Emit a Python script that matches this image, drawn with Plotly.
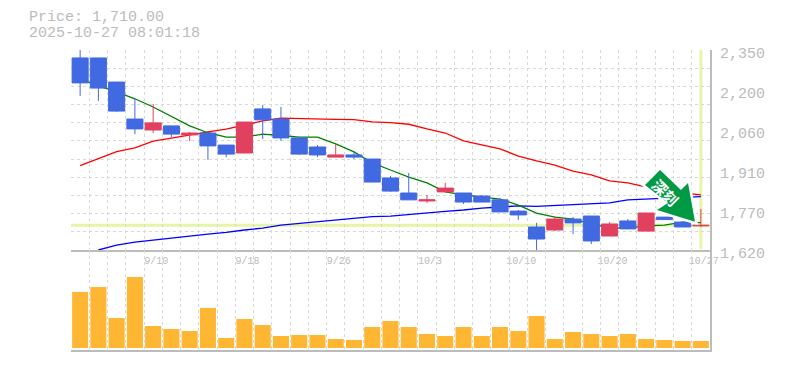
import plotly.graph_objects as go

dates = ["9/4","9/5","9/8","9/9","9/10","9/11","9/12","9/16","9/17","9/18","9/19","9/22","9/24","9/25","9/26",
         "9/29","9/30","10/1","10/2","10/3","10/6","10/7","10/8","10/9","10/10","10/14","10/15","10/16","10/17","10/20",
         "10/21","10/22","10/23","10/24","10/27"]
labelled = ["9/10","9/18","9/26","10/3","10/10","10/20","10/27"]

opens  = [2321,2321,2233,2098,2058,2073,2040,2047,2003,1974,2135,2098,2029,1996,1959,1967,1952,1883,1828,1799,1832,1828,1817,1803,1762,1704,1693,1733,1744,1671,1726,1689,1740,1722,1708]
highs  = [2350,2321,2233,2175,2153,2073,2051,2047,2003,2087,2149,2142,2029,2003,2007,1981,1952,1890,1901,1821,1865,1828,1821,1810,1766,1719,1744,1740,1744,1722,1733,1755,1740,1722,1770]
lows   = [2182,2164,2124,2043,2047,2032,2018,1949,1959,1974,2025,2018,1967,1959,1959,1952,1868,1832,1803,1792,1832,1788,1795,1759,1730,1620,1689,1678,1642,1671,1697,1689,1731,1704,1704]
closes = [2230,2211,2127,2062,2084,2043,2047,2000,1970,2087,2095,2029,1970,1967,1967,1959,1868,1835,1803,1803,1846,1795,1795,1759,1748,1660,1733,1719,1653,1715,1697,1755,1731,1704,1710]

ma_short = [2244,2219,2197,2172,2142,2109,2073,2048,2032,2032,2043,2038,2032,2032,2007,1978,1938,1912,1886,1865,1832,1821,1813,1806,1784,1755,1740,1733,1715,1700,1700,1708,1711,1722,1720]
ma_mid   = [1928,1954,1979,1993,2017,2028,2040,2051,2061,2076,2091,2101,2099,2097,2097,2096,2088,2085,2079,2062,2047,2018,2003,1989,1963,1945,1930,1908,1894,1872,1865,1850,1835,1828,1821]
ma_long  = [None,1620,1638,1649,1657,1664,1671,1678,1684,1693,1700,1711,1717,1724,1730,1737,1742,1744,1750,1757,1761,1766,1773,1777,1781,1779,1782,1784,1788,1792,1803,1806,1808,1812,1815]

volumes = [56,61,30,71,22,19,17,40,10,29,23,12,13,13,9,8,21,27,21,14,12,21,12,21,17,32,9,16,14,12,14,9,8,7,7]

price_ticks = [1620,1766,1912,2058,2204,2350]
price_tick_text = ["1,620","1,770","1,910","2,060","2,200","2,350"]
last_price = 1710
last_date = "10/27"

GRID = "#d8d8d8"
AXIS = "#bcbcbc"
TEXT = "#bbbbbb"
MONO = "Liberation Mono"
L, R, T, B = 71, 710, 50, 350

def px(x, y):
    return (x - L) / (R - L), (B - y) / (B - T)

fig = go.Figure()
for vals, col in ((ma_long, "#0000ff"), (ma_mid, "#ff0000"), (ma_short, "#008000")):
    fig.add_trace(go.Scatter(x=dates, y=vals, mode="lines", line=dict(color=col, width=1.3),
                             xaxis="x", yaxis="y", showlegend=False, hoverinfo="skip"))
fig.add_trace(go.Candlestick(x=dates, open=opens, high=highs, low=lows, close=closes,
                             xaxis="x3", yaxis="y3", whiskerwidth=0, showlegend=False,
                             increasing=dict(line=dict(color="#e1405f", width=1), fillcolor="#e1405f"),
                             decreasing=dict(line=dict(color="#4169e1", width=1), fillcolor="#4169e1")))
fig.add_trace(go.Bar(x=dates, y=volumes, marker=dict(color="#ffb733", line=dict(width=0)),
                     xaxis="x2", yaxis="y2", showlegend=False))

tick_text = [d if d in labelled else "" for d in dates]
xbase = dict(type="category", categoryorder="array", categoryarray=dates, range=[-0.5, 34.5],
             tickmode="array", tickvals=dates, tickson="boundaries", showgrid=True, gridcolor=GRID,
             griddash="3px,3px", gridwidth=1, showline=True, linecolor=AXIS, linewidth=2, ticks="",
             zeroline=False, rangeslider=dict(visible=False), tickangle=0)

arrow = [(660,170),(645,185),(668,203),(657,210),(695,221.7),(688,183),(681,190)]
path = "M" + "L".join("%.4f,%.4f" % px(*p) for p in arrow) + "Z"

fig.update_layout(
    width=785, height=370, margin=dict(l=L, r=785-R, t=T, b=370-B, autoexpand=False),
    paper_bgcolor="white", plot_bgcolor="white", showlegend=False, bargap=0.12, boxgap=0.12, boxgroupgap=0,
    font=dict(family=MONO, color=TEXT),
    xaxis=dict(xbase, domain=[0,1], anchor="y", ticktext=tick_text,
               tickfont=dict(family=MONO, size=10, color=TEXT), ticklabelstandoff=0, ticklabelshift=3),
    xaxis2=dict(xbase, domain=[0,1], anchor="y2", ticktext=[""]*len(dates)),
    xaxis3=dict(type="category", categoryorder="array", categoryarray=dates, range=[-0.5, 34.5],
                overlaying="x", anchor="y3", visible=False, rangeslider=dict(visible=False)),
    yaxis=dict(domain=[100/300,1], anchor="x", side="right", range=[1620,2350],
               tickmode="array", tickvals=price_ticks, ticktext=price_tick_text, showgrid=False,
               tickfont=dict(family=MONO, size=15, color=TEXT), ticks="", zeroline=False,
               showline=True, linecolor=AXIS, linewidth=2, ticklabelstandoff=5, ticklabelshift=3,
               minor=dict(tick0=1620, dtick=730/11, showgrid=True, gridcolor=GRID,
                          griddash="3px,3px", gridwidth=1, ticks="")),
    yaxis2=dict(domain=[0,100/300], anchor="x2", side="right", range=[-2,98], showgrid=False,
                showticklabels=False, ticks="", zeroline=False, showline=True, linecolor=AXIS, linewidth=2),
    yaxis3=dict(domain=[100/300,1], overlaying="y", anchor="x3", side="right", range=[1620,2350], visible=False),
    shapes=[
        dict(type="line", layer="below", xref="paper", x0=0, x1=1, yref="y", y0=last_price, y1=last_price,
             line=dict(color="#e6f5a8", width=3)),
        dict(type="line", layer="below", xref="x", x0=last_date, x1=last_date, yref="paper",
             y0=px(0,249)[1], y1=1, line=dict(color="#e6f5a8", width=3)),
        dict(type="path", layer="above", xref="paper", yref="paper", path=path,
             fillcolor="white", line=dict(width=5, color="white")),
        dict(type="path", layer="above", xref="paper", yref="paper", path=path,
             fillcolor="#009944", line=dict(width=0)),
    ],
    annotations=[
        dict(text="Price: 1,710.00", xref="paper", yref="paper", x=px(27,0)[0], y=px(0,18)[1], xanchor="left",
             yanchor="middle", showarrow=False, font=dict(family=MONO, size=15, color=TEXT)),
        dict(text="2025-10-27 08:01:18", xref="paper", yref="paper", x=px(27,0)[0], y=px(0,33)[1], xanchor="left",
             yanchor="middle", showarrow=False, font=dict(family=MONO, size=15, color=TEXT)),
        dict(text="<b>深刻</b>", xref="paper", yref="paper", x=px(666,0)[0], y=px(0,192)[1], xanchor="center",
             yanchor="middle", showarrow=False, textangle=45,
             font=dict(family="Noto Sans CJK JP", size=15, color="white")),
    ],
)
fig.write_html("out.html", config=dict(displayModeBar=False),
               post_script="document.body.style.margin='0';document.body.style.overflow='hidden';")
